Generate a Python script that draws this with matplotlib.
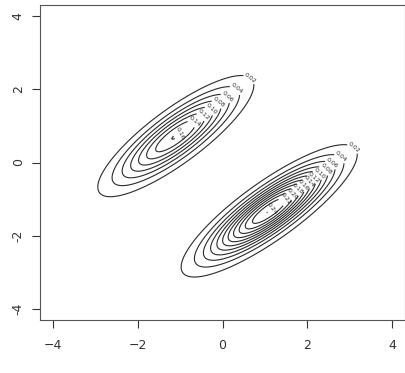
import numpy as np
import matplotlib.pyplot as plt

# two-component gaussian mixture
weights = [0.4, 0.6]
means = [(-1.1, 0.72), (1.1, -1.32)]
sd_x = [0.9, 0.93]
sd_y = [0.81, 0.81]
rhos = [0.84, 0.85]
levels = [0.02, 0.04, 0.06, 0.08, 0.10, 0.12, 0.14, 0.16, 0.18,
          0.20, 0.22, 0.24, 0.26]
ticks = [-4, -2, 0, 2, 4]


def bvn(x, y, mu, sx, sy, r):
    dx = (x - mu[0]) / sx
    dy = (y - mu[1]) / sy
    q = (dx**2 - 2 * r * dx * dy + dy**2) / (1 - r**2)
    return np.exp(-q / 2) / (2 * np.pi * sx * sy * np.sqrt(1 - r**2))


g = np.linspace(-4, 4, 300)
X, Y = np.meshgrid(g, g)
Z = sum(w * bvn(X, Y, m, sx, sy, r)
        for w, m, sx, sy, r in zip(weights, means, sd_x, sd_y, rhos))

fig = plt.figure(figsize=(4.05, 3.73), dpi=100)
ax = fig.add_axes([40 / 405, 53 / 373, 365 / 405, 315 / 373])

cs = ax.contour(X, Y, Z, levels=levels, colors="#2a2a2a", linewidths=0.8)

# label each ring near its upper-right tip, like R does
spots = []
for segs in cs.allsegs:
    for seg in segs:
        if len(seg) == 0:
            continue
        k = np.argmax(seg[:, 0] + 1.1 * seg[:, 1])
        spots.append((seg[k, 0], seg[k, 1]))
ax.clabel(cs, fmt="%.2f", fontsize=4.5, inline=True, inline_spacing=1,
          manual=spots)

ax.set_xlim(-4.3, 4.3)
ax.set_ylim(-4.3, 4.3)
ax.set_xticks(ticks)
ax.set_yticks(ticks)
ax.set_yticklabels([str(t) for t in ticks], rotation=90, va="center")
ax.tick_params(direction="out", length=6, width=0.8, colors="#333333",
               labelsize=9)
ax.tick_params(axis="x", pad=8)
ax.tick_params(axis="y", pad=5)
for sp in ax.spines.values():
    sp.set_color("#555555")
    sp.set_linewidth(0.8)

fig.savefig("out.png", dpi=100)
